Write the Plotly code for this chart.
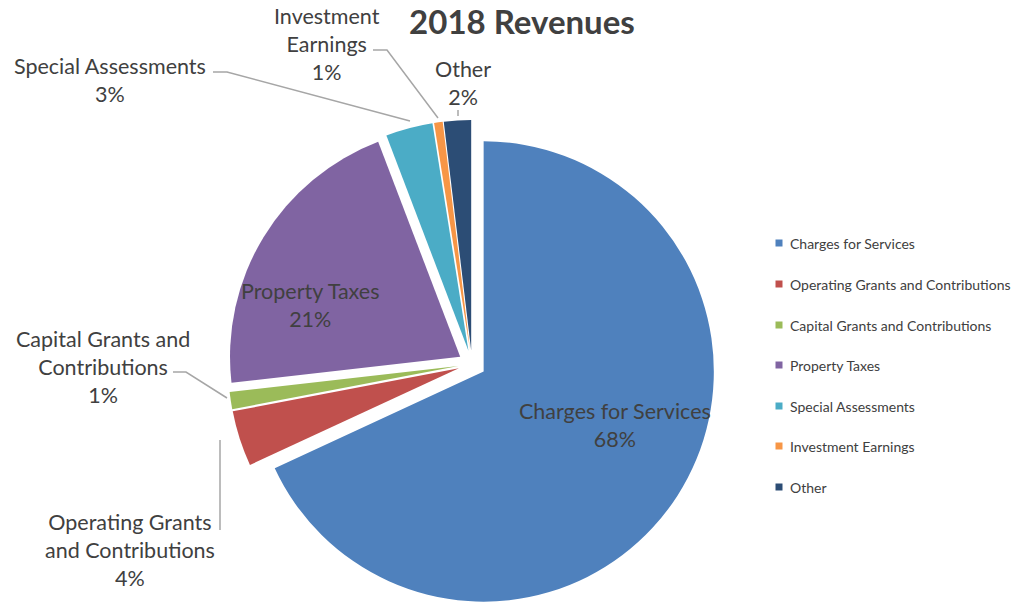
import plotly.graph_objects as go

# ---- data ----
categories = ["Charges for Services", "Operating Grants and Contributions",
              "Capital Grants and Contributions", "Property Taxes",
              "Special Assessments", "Investment Earnings", "Other"]
values = [68.1, 3.9, 1.2, 21.0, 3.3, 0.6, 1.9]
colors = ["#4F81BD", "#C0504D", "#9BBB59", "#8064A2", "#4BACC6", "#F79646", "#2C4D75"]
# label text as shown on the chart (line breaks per reference)
label_lines = ["Charges for Services", "Operating Grants<br>and Contributions",
               "Capital Grants and<br>Contributions", "Property Taxes",
               "Special Assessments", "Investment<br>Earnings", "Other"]

W, H = 1036, 608
TXT = "#404040"
FONT = "Lato"


def px(x):
    return x / W


def py(y):
    return 1 - y / H


total = sum(values)
pcts = [round(v / total * 100) for v in values]

fig = go.Figure()
fig.add_trace(go.Pie(
    labels=categories, values=values, sort=False, direction="clockwise",
    rotation=0, marker=dict(colors=colors, line=dict(width=0)),
    pull=[0.06] * len(values), textinfo="none", hoverinfo="label+percent",
    showlegend=False,
    domain=dict(x=[px(472 - 260), px(472 + 260)], y=[0, py(364 - 244)]),
))

# label placement (pixel centres) per category
label_pos = [(615, 425), (130, 550), (103, 367), (310, 305), (110, 80), (327, 44), (463, 83)]
annotations = []
for lab, p, (x, y) in zip(label_lines, pcts, label_pos):
    annotations.append(dict(
        text=f"{lab}<br>{p}%", x=px(x), y=py(y), xref="paper", yref="paper",
        xanchor="center", yanchor="middle", showarrow=False, align="center",
        font=dict(family=FONT, size=21.5, color=TXT)))

# leader lines (pixel paths)
leaders = [
    [(213, 72), (227, 72), (410, 121)],      # Special Assessments
    [(373, 50), (387, 50), (438, 118)],      # Investment Earnings
    [(458, 110), (458, 116)],                # Other
    [(173, 372), (186, 372), (227, 398)],    # Capital Grants
    [(220, 440), (220, 530)],                # Operating Grants
]
shapes = []
for pts in leaders:
    path = "M " + " L ".join(f"{px(x)},{py(y)}" for x, y in pts)
    shapes.append(dict(type="path", path=path, xref="paper", yref="paper",
                       line=dict(color="#A6A6A6", width=1.5)))

# manual legend
leg_y = [243, 284, 325, 365, 406, 446, 487]
for cat, col, y in zip(categories, colors, leg_y):
    shapes.append(dict(type="rect", xref="paper", yref="paper",
                       x0=px(775.5), x1=px(782.5), y0=py(y - 3.5), y1=py(y + 3.5),
                       fillcolor=col, line=dict(width=0)))
    annotations.append(dict(
        text=cat, x=px(788), y=py(y), xref="paper", yref="paper",
        xanchor="left", yanchor="middle", showarrow=False,
        font=dict(family=FONT, size=14, color=TXT)))

fig.update_layout(
    width=W, height=H, margin=dict(l=0, r=0, t=0, b=0),
    paper_bgcolor="white", plot_bgcolor="white",
    title=dict(text="<b>2018 Revenues</b>", x=px(522), y=py(22),
               xanchor="center", yanchor="middle",
               font=dict(family=FONT, size=33, color=TXT)),
    annotations=annotations, shapes=shapes,
)

fig.write_html("out.html", config={"displayModeBar": False},
               post_script="document.body.style.margin='0';")
